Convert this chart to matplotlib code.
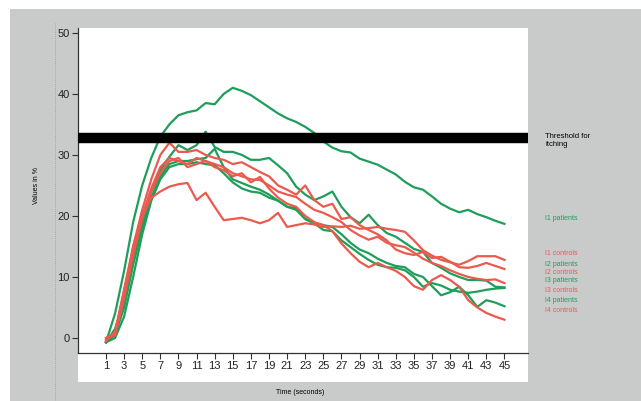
import numpy as np
import matplotlib
matplotlib.use("Agg")
from matplotlib import pyplot as plt
from matplotlib.patches import Rectangle
from matplotlib.lines import Line2D

plt.rcParams['font.family'] = ['Liberation Sans', 'DejaVu Sans']

# time axis, seconds 1..45
t = np.arange(1, 46)

# patients (green)
p1 = [-0.7, 4, 11, 19, 25, 29.5, 33, 35, 36.5, 37, 37.3, 38.5, 38.3, 40, 41,
      40.5, 39.8, 38.8, 37.8, 36.8, 36, 35.4, 34.6, 33.6, 32.2, 31.2, 30.6, 30.4, 29.4, 28.9,
      28.4, 27.6, 26.8, 25.6, 24.7, 24.3, 23.2, 22, 21.2, 20.6, 21, 20.3, 19.8, 19.2, 18.7]
p2 = [-0.7, 1.5, 6, 13, 19, 24, 27.5, 29.7, 31.6, 30.8, 31.6, 33.8, 31.3, 30.5, 30.5,
      30, 29.2, 29.2, 29.5, 28.3, 27, 24.8, 23.5, 22.6, 23.2, 24, 21.5, 19.8, 18.8, 20.2,
      18.5, 17.2, 16.6, 15.6, 14.6, 14.1, 12.3, 11.5, 10.6, 10, 9.5, 9.5, 9.4, 8.4, 8.3]
p3 = [-0.7, 0.5, 5, 12, 18, 23, 26.5, 28.5, 29, 29, 29.3, 29.5, 31, 28, 26,
      25.4, 24.8, 24.3, 23.5, 22.5, 21.5, 21, 19.5, 18.8, 18.5, 18.2, 17, 15.6, 14.5, 13.9,
      13, 12.3, 11.8, 11.6, 10.5, 10, 8.5, 7, 7.5, 8.4, 7, 5.1, 6.2, 5.8, 5.2]
p4 = [-0.7, 0, 3.5, 10, 17, 22.5, 26, 28, 28.5, 28.5, 28.8, 28.5, 28.3, 27, 25.5,
      24.5, 24, 23.8, 23, 22.5, 21.5, 21.3, 19.5, 18.8, 17.7, 17.5, 16, 14.9, 13.8, 12.8,
      12, 11.6, 11.5, 11.1, 10, 8.4, 9, 8.6, 7.9, 7.6, 7.4, 7.6, 7.9, 8.1, 8.2]

# controls (red)
c1 = [-0.5, 1, 8, 15, 20, 23, 24, 24.8, 25.2, 25.4, 22.6, 23.8, 21.5, 19.3, 19.5,
      19.7, 19.3, 18.8, 19.3, 20.5, 18.2, 18.5, 18.8, 18.6, 18.2, 18.3, 18.2, 18.4, 17.9, 18,
      18.2, 17.9, 17.7, 17.4, 16, 14.4, 13.5, 12.8, 12.4, 12, 12.6, 13.4, 13.4, 13.4, 12.8]
c2 = [0, 0.5, 7, 15, 21, 26, 30, 32, 30.5, 30.5, 30.8, 30, 29.5, 29.2, 28.5,
      28.8, 28, 27.2, 26.5, 25, 24.3, 23.5, 25, 22.6, 21.5, 22, 19.5, 19.8, 18.5, 17.7,
      17, 16, 14.5, 13.9, 13.6, 14.1, 13.1, 13.3, 12.5, 11.6, 11.5, 11.8, 12.3, 11.8, 11.3]
c3 = [0, 0.8, 7.5, 14, 20, 24.5, 28, 29.5, 29, 28.5, 29.5, 29, 28.5, 28, 27,
      26.5, 26, 25.9, 25, 24, 23.5, 23.1, 22, 21, 20.5, 19.8, 19, 17.7, 16.8, 16.1,
      16.6, 15.6, 15.2, 14.9, 14, 13, 12.3, 11.8, 11.1, 10.5, 10, 9.7, 9.5, 9.6, 9]
c4 = [-0.3, 0.6, 6.5, 13.5, 19.5, 24, 27, 29, 29.5, 28, 28.5, 29, 28, 27.5, 26.5,
      27, 25.5, 26.4, 24.5, 23, 22, 21.5, 20, 19, 18.5, 17.5, 15.5, 13.9, 12.5, 11.6,
      12.3, 11.6, 11, 10, 8.5, 7.9, 9.5, 10.3, 9.5, 8.4, 6.2, 5, 4.1, 3.5, 3]

patients = [p1, p2, p3, p4]
controls = [c1, c2, c3, c4]

labels = ['I1 patients', 'I1 controls', 'I2 patients', 'I2 controls',
          'I3 patients', 'I3 controls', 'I4 patients', 'I4 controls']
label_y = [218, 254, 264, 273, 281, 290, 300, 310]   # pixel rows

threshold = 32.8
xticks = np.arange(1, 46, 2)
yticks = np.arange(0, 51, 10)

green = '#1e9e5a'
red = '#ea5a4e'
grey = '#c9cbcb'

W, H = 641, 401
fig = plt.figure(figsize=(W / 100, H / 100), dpi=100, facecolor='white')

# grey backdrop and white plot panel
fig.patches.append(Rectangle((10 / W, 0), 1, (H - 9) / H, transform=fig.transFigure,
                             facecolor=grey, edgecolor='none', zorder=-3))
fig.patches.append(Rectangle((78 / W, (H - 382) / H), 450 / W, 354 / H, transform=fig.transFigure,
                             facecolor='white', edgecolor='none', zorder=-2))
fig.lines.append(Line2D([55 / W, 55 / W], [0, (H - 22) / H], transform=fig.transFigure,
                        color='#9a9a9a', lw=0.6, ls=(0, (1, 1.5))))

ax = fig.add_axes([78 / W, (H - 353) / H, 450 / W, 325 / H])
ax.set_facecolor('white')

for s in patients:
    ax.plot(t, s, color=green, lw=1.6, solid_joinstyle='round')
for s in controls:
    ax.plot(t, s, color=red, lw=1.6, solid_joinstyle='round')

ax.axhline(threshold, color='black', lw=7.5, zorder=5)

ax.set_xlim(-2.09, 47.6)
ax.set_ylim(-2.46, 50.8)
ax.set_xticks(xticks)
ax.set_yticks(yticks)
ax.tick_params(axis='both', labelsize=8, color='#333333', labelcolor='#222222',
               direction='out', length=4, width=0.8, pad=2)
for side in ['top', 'right']:
    ax.spines[side].set_visible(False)
for side in ['left', 'bottom']:
    ax.spines[side].set_color('#333333')
    ax.spines[side].set_linewidth(0.9)

fig.text(300 / W, 1 - 393 / H, 'Time (seconds)', fontsize=5, ha='center', va='center')
fig.text(37 / W, 1 - 185 / H, 'Values in %', fontsize=5, ha='center', va='center', rotation=90)

fig.text(545 / W, 1 - 141 / H, 'Threshold for\nitching', fontsize=5.5, ha='left', va='center',
         linespacing=1.2)
for lab, yy in zip(labels, label_y):
    col = green if 'patients' in lab else red
    fig.text(545 / W, 1 - yy / H, lab, fontsize=5, color=col, ha='left', va='center')

fig.savefig('out.png', dpi=100, facecolor=fig.get_facecolor())
